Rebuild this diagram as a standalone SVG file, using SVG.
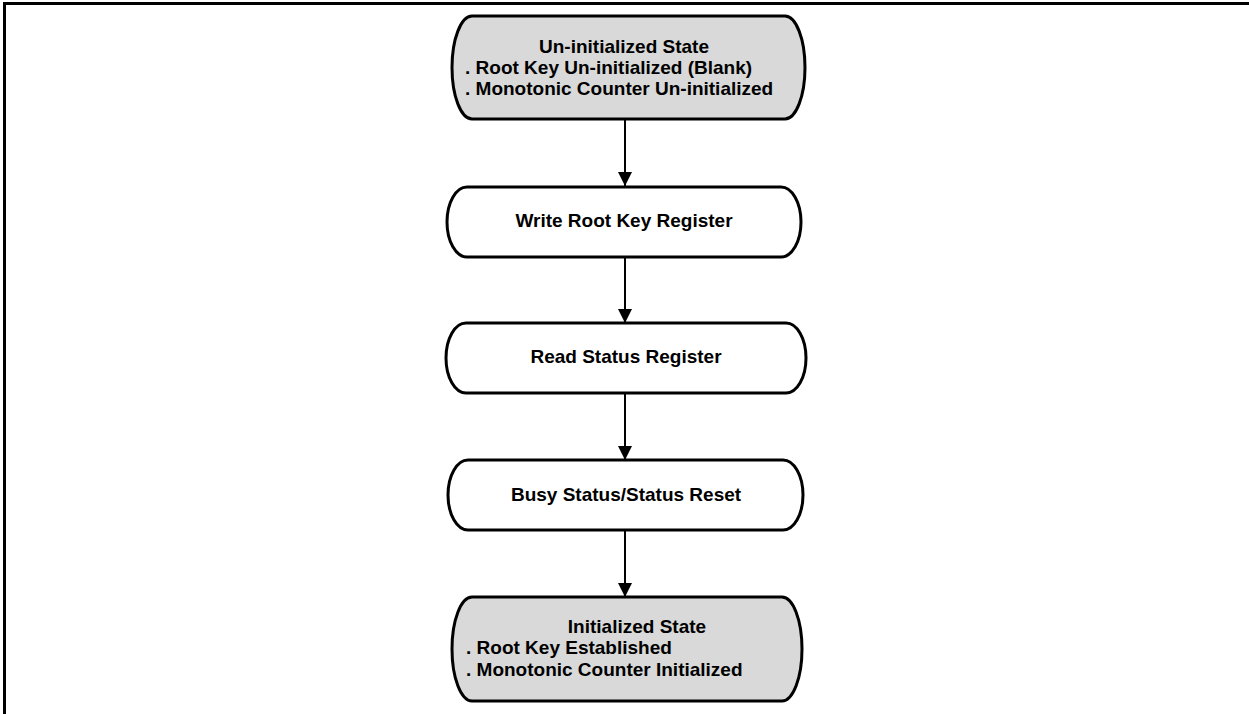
<svg xmlns="http://www.w3.org/2000/svg" width="1249" height="714" viewBox="0 0 1249 714">
<defs>
<style>
.node{stroke:#000;stroke-width:3;}
.state{fill:#d9d9d9;}
.step{fill:#fff;}
.t{font-family:"Liberation Sans",Arial,sans-serif;font-weight:bold;font-size:19px;fill:#000;}
.c{text-anchor:middle;}
.edge{stroke:#000;stroke-width:2;fill:none;marker-end:url(#arr);}
</style>
<marker id="arr" viewBox="0 0 14 18" refX="14" refY="7" markerWidth="14" markerHeight="18" markerUnits="userSpaceOnUse" orient="auto">
<path d="M0,0 L14,7 L0,14 Z" fill="#000"/>
</marker>
</defs>
<rect width="1249" height="714" fill="#fff"/>
<path d="M4.5,714 V3.5 H1249" fill="none" stroke="#000" stroke-width="3"/>
<g id="connectors">
<line class="edge" x1="625" y1="119" x2="625" y2="186"/>
<line class="edge" x1="625" y1="257" x2="625" y2="323"/>
<line class="edge" x1="625" y1="393" x2="625" y2="460"/>
<line class="edge" x1="625" y1="530" x2="625" y2="597"/>
</g>
<g id="n1">
<path class="node state" d="M472,16 H785 A20,51.5 0 0 1 785,119 H472 A20,51.5 0 0 1 472,16 Z"/>
<text class="t c" x="624" y="53">Un-initialized State</text>
<text class="t" x="465" y="74">. Root Key Un-initialized (Blank)</text>
<text class="t" x="465" y="95">. Monotonic Counter Un-initialized</text>
</g>
<g id="n2">
<path class="node step" d="M467,187 H781 A20,35 0 0 1 781,257 H467 A20,35 0 0 1 467,187 Z"/>
<text class="t c" x="624" y="227">Write Root Key Register</text>
</g>
<g id="n3">
<path class="node step" d="M466,323 H786 A20,35 0 0 1 786,393 H466 A20,35 0 0 1 466,323 Z"/>
<text class="t c" x="626" y="363">Read Status Register</text>
</g>
<g id="n4">
<path class="node step" d="M468,460 H783 A20,35 0 0 1 783,530 H468 A20,35 0 0 1 468,460 Z"/>
<text class="t c" x="626" y="501">Busy Status/Status Reset</text>
</g>
<g id="n5">
<path class="node state" d="M472,597 H782 A20,52 0 0 1 782,701 H472 A20,52 0 0 1 472,597 Z"/>
<text class="t c" x="637" y="633">Initialized State</text>
<text class="t" x="466" y="654">. Root Key Established</text>
<text class="t" x="466" y="676">. Monotonic Counter Initialized</text>
</g>
</svg>
